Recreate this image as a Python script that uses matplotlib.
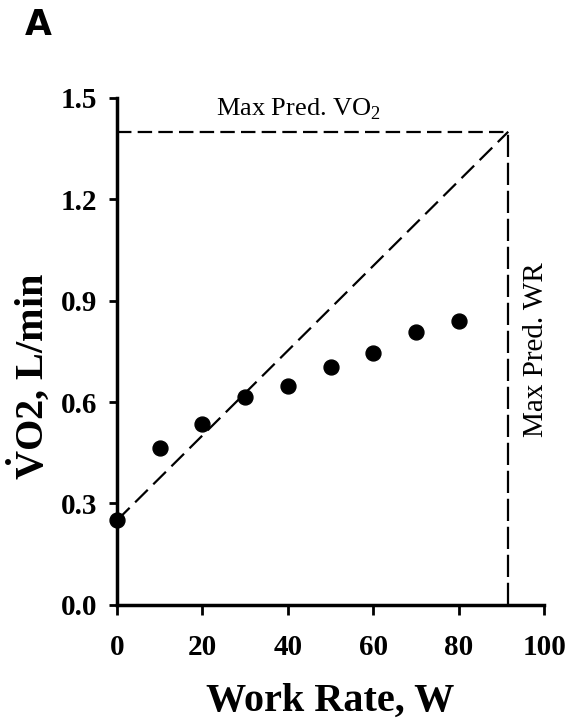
import matplotlib
matplotlib.use("Agg")
import matplotlib.pyplot as plt

plt.rcParams["mathtext.fontset"] = "custom"
plt.rcParams["mathtext.rm"] = "Liberation Serif"
plt.rcParams["mathtext.bf"] = "Liberation Serif:bold"

# work rate (W) vs oxygen uptake (L/min)
work_rate = [0, 10, 20, 30, 40, 50, 60, 70, 80]
vo2 = [0.25, 0.465, 0.535, 0.615, 0.648, 0.705, 0.745, 0.808, 0.84]

max_pred_wr = 91.6
max_pred_vo2 = 1.40
rest_vo2 = 0.25

x_ticks = [0, 20, 40, 60, 80, 100]
y_ticks = [0.0, 0.3, 0.6, 0.9, 1.2, 1.5]

serif = "Liberation Serif"

fig = plt.figure(figsize=(5.68, 7.2), dpi=100)
ax = fig.add_axes([0.206, 0.160, 0.752, 0.704])

ax.plot([0, max_pred_wr], [max_pred_vo2, max_pred_vo2], color="black", lw=1.6, ls=(0, (6.5, 2.8)))
ax.plot([max_pred_wr, max_pred_wr], [0, max_pred_vo2], color="black", lw=1.6, ls=(0, (10, 2.6)))
ax.plot([0, max_pred_wr], [rest_vo2, max_pred_vo2], color="black", lw=1.6, ls=(0, (8, 3.5)))
ax.scatter(work_rate, vo2, s=115, color="black", zorder=3, clip_on=False)

ax.set_xlim(0, 100)
ax.set_ylim(0, 1.5)
ax.set_xticks(x_ticks)
ax.set_yticks(y_ticks)
ax.set_xticklabels([str(t) for t in x_ticks])
ax.set_yticklabels(["%.1f" % t for t in y_ticks])

for s in ["top", "right"]:
    ax.spines[s].set_visible(False)
for s in ["left", "bottom"]:
    ax.spines[s].set_linewidth(2.5)
ax.tick_params(axis="x", width=2, length=7, direction="out", pad=14)
ax.tick_params(axis="y", width=2, length=6, direction="out", pad=8)
for lab in ax.get_xticklabels() + ax.get_yticklabels():
    lab.set_fontfamily(serif)
    lab.set_fontweight("bold")
    lab.set_fontsize(21)

ax.set_xlabel("Work Rate, W", fontfamily=serif, fontweight="bold", fontsize=29, labelpad=16)
ax.set_ylabel(r"$\mathbf{\dot{V}}$O2, L/min", fontfamily=serif, fontweight="bold",
              fontsize=29)
ax.yaxis.set_label_coords(-0.152, 0.45)

ax.text(42.5, max_pred_vo2 + 0.03, "Max Pred. VO$_2$", fontfamily=serif,
        fontsize=19, ha="center", va="bottom")
ax.text(max_pred_wr + 3.5, 0.755, "Max Pred. WR", fontfamily=serif, fontsize=21,
        rotation=90, ha="left", va="center")

fig.text(0.044, 0.965, "A", fontfamily="DejaVu Sans", fontweight="bold", fontsize=25,
         ha="left", va="center")

fig.savefig("out.png", dpi=100)
